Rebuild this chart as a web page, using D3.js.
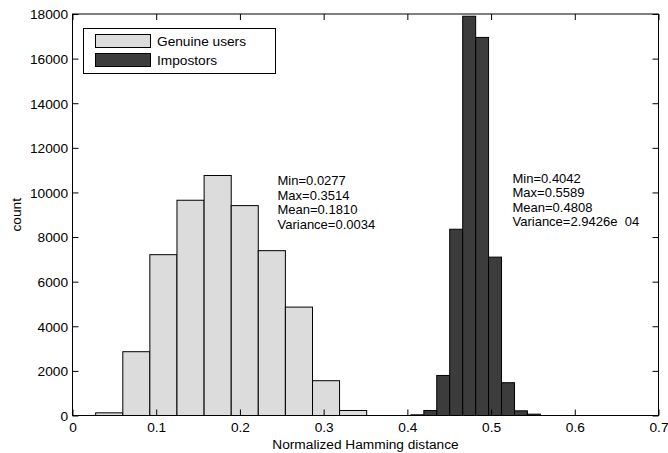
<!DOCTYPE html>
<html><head><meta charset="utf-8">
<script src="https://cdn.jsdelivr.net/npm/d3@7"></script>
<style>
body{margin:0;background:#fff;}
svg text{font-family:"Liberation Sans",Arial,Helvetica,sans-serif;font-size:13.7px;fill:#000;}
svg text.stat{font-size:13px;}
</style></head>
<body><svg id="chart" width="668" height="453"></svg>
<script>
// Data
const genuineEdges = [0.0277,0.0601,0.0924,0.1248,0.1572,0.1896,0.2219,0.2543,0.2867,0.3190,0.3514];
const genuineCounts = [120,2860,7210,9650,10760,9410,7390,4860,1560,225];
const impostorEdges = [0.4042,0.4197,0.4351,0.4506,0.4661,0.4816,0.4970,0.5125,0.5280,0.5434,0.5589];
const impostorCounts = [30,225,1795,8350,17900,16950,7100,1470,210,60];
const xTicks = [0,0.1,0.2,0.3,0.4,0.5,0.6,0.7];
const yTicks = [0,2000,4000,6000,8000,10000,12000,14000,16000,18000];
const legendLabels = ["Genuine users","Impostors"];
const genuineStats = ["Min=0.0277","Max=0.3514","Mean=0.1810","Variance=0.0034"];
const impostorStats = ["Min=0.4042","Max=0.5589","Mean=0.4808","Variance=2.9426e  04"];
const colors = ["#dcdcdc","#3c3c3c"];

const svg = d3.select("#chart");
const L=72.5, R=658.5, T=14, B=415.5;
const x = d3.scaleLinear().domain([0,0.7]).range([L,R]);
const y = d3.scaleLinear().domain([0,18000]).range([B,T]);

function bars(edges, counts, color){
  svg.append("g").selectAll("rect").data(counts).join("rect")
    .attr("x",(d,i)=>x(edges[i]))
    .attr("width",(d,i)=>x(edges[i+1])-x(edges[i]))
    .attr("y",d=>y(d))
    .attr("height",d=>B-y(d))
    .attr("fill",color).attr("stroke","#000").attr("stroke-width",1);
}
bars(genuineEdges, genuineCounts, colors[0]);
bars(impostorEdges, impostorCounts, colors[1]);

const fmtX = d=> d===0 ? "0" : d3.format(".1f")(d);
const gb = svg.append("g").attr("transform",`translate(0,${B})`)
  .call(d3.axisBottom(x).tickValues(xTicks).tickFormat(fmtX).tickSizeInner(-6).tickSizeOuter(0).tickPadding(7));
const gt = svg.append("g").attr("transform",`translate(0,${T})`)
  .call(d3.axisTop(x).tickValues(xTicks).tickFormat("").tickSizeInner(-6).tickSizeOuter(0));
const gl = svg.append("g").attr("transform",`translate(${L},0)`)
  .call(d3.axisLeft(y).tickValues(yTicks).tickFormat(d3.format("d")).tickSizeInner(-6).tickSizeOuter(0).tickPadding(4.5));
const gr = svg.append("g").attr("transform",`translate(${R},0)`)
  .call(d3.axisRight(y).tickValues(yTicks).tickFormat("").tickSizeInner(-6).tickSizeOuter(0));
[gb,gt,gl,gr].forEach(g=>{
  g.select(".domain").remove();
  g.selectAll("line").attr("stroke","#000");
  g.attr("font-size",null).attr("font-family",null);
});
gl.selectAll("text").attr("dy","0.36em");

svg.append("rect").attr("x",L).attr("y",T).attr("width",R-L).attr("height",B-T)
  .attr("fill","none").attr("stroke","#000").attr("stroke-width",1);

svg.append("text").attr("x",(L+R)/2).attr("y",449).attr("text-anchor","middle").text("Normalized Hamming distance");
svg.append("text").attr("transform",`translate(21,${(T+B)/2}) rotate(-90)`).attr("text-anchor","middle").text("count");

const lg = svg.append("g");
lg.append("rect").attr("x",83.5).attr("y",28.5).attr("width",192).attr("height",45)
  .attr("fill","#fff").attr("stroke","#000").attr("stroke-width",1);
legendLabels.forEach((lab,i)=>{
  lg.append("rect").attr("x",95.5).attr("y",34.5+i*19).attr("width",55).attr("height",13)
    .attr("fill",colors[i]).attr("stroke","#000").attr("stroke-width",1);
  lg.append("text").attr("x",157).attr("y",46+i*19).text(lab);
});

function statBlock(lines, x0, y0){
  const t = svg.append("text").attr("class","stat").attr("x",x0).attr("y",y0).style("white-space","pre");
  t.selectAll("tspan").data(lines).join("tspan")
    .attr("x",x0).attr("dy",(d,i)=> i===0 ? 0 : 14.6).text(d=>d);
}
statBlock(genuineStats, 277.5, 185);
statBlock(impostorStats, 512.5, 182.5);
</script></body></html>
